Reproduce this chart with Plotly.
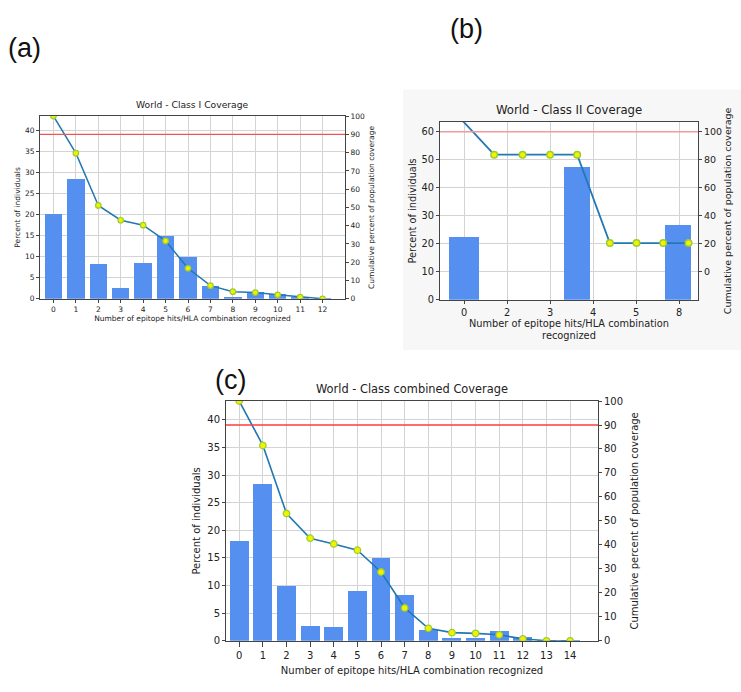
import plotly.graph_objects as go

# ---------------- data ----------------
# (a) World - Class I Coverage
a_hits = list(range(13))
a_tick_labels = [str(v) for v in a_hits]
a_pct = [20.1, 28.5, 8.3, 2.5, 8.4, 14.9, 9.9, 3.1, 0.2, 1.6, 1.2, 0.5, 0.1]
a_cum = [100, 79.7, 51.1, 43.0, 40.3, 31.7, 16.7, 7.2, 3.9, 3.4, 2.2, 0.9, 0.0]
a_threshold = 90

# (b) World - Class II Coverage
b_tick_pos = [0, 1, 2, 3, 4, 5]
b_tick_labels = ["0", "2", "3", "4", "5", "8"]
b_right_ticks = [0, 20, 40, 60, 80, 100]
b_bar_x = [0, 2.63, 4.97]
b_bar_pct = [22.4, 47.6, 26.8]
b_cum_x = [-0.1, 0.70, 1.36, 2.0, 2.63, 3.39, 4.01, 4.63, 5.22]
b_cum = [110, 83.6, 83.6, 83.6, 83.6, 20.4, 20.4, 20.4, 20.4]
b_threshold = 100

# (c) World - Class combined Coverage
c_hits = list(range(15))
c_tick_labels = [str(v) for v in c_hits]
c_pct = [18.1, 28.4, 10.0, 2.6, 2.5, 9.0, 14.9, 8.3, 2.0, 0.5, 0.5, 1.7, 0.6, 0.1, 0.05]
c_cum = [100, 81.5, 53.1, 42.8, 40.4, 37.8, 28.7, 13.7, 5.2, 3.4, 3.1, 2.5, 0.8, 0.0, 0.0]
c_threshold = 90

# ---------------- styles ----------------
W, H = 741, 692
FONT = "DejaVu Sans"
BAR = "#5590F0"
LINE = "#2278B5"
MK_FILL = "#F2F200"
MK_EDGE = "#9ACD32"
GRID = "#D3D3D3"
AXC = "#444444"
TXT = "#222222"


def px_x(p):
    return p / W


def px_y(p):
    return 1 - p / H


fig = go.Figure()

# bars + cumulative lines
fig.add_trace(go.Bar(x=a_hits, y=a_pct, width=0.78, marker=dict(color=BAR, line=dict(width=0)),
                     xaxis="x", yaxis="y"))
fig.add_trace(go.Scatter(x=a_hits, y=a_cum, mode="lines+markers", xaxis="x", yaxis="y2",
                         line=dict(color=LINE, width=1.5),
                         marker=dict(size=5.5, color=MK_FILL, line=dict(color=MK_EDGE, width=1.2))))

fig.add_trace(go.Bar(x=b_bar_x, y=b_bar_pct, width=[0.68, 0.6, 0.6], marker=dict(color=BAR, line=dict(width=0)),
                     xaxis="x2", yaxis="y3"))
fig.add_trace(go.Scatter(x=b_cum_x, y=b_cum, mode="lines+markers", xaxis="x2", yaxis="y4",
                         line=dict(color=LINE, width=1.8),
                         marker=dict(size=6.5, color=MK_FILL, line=dict(color=MK_EDGE, width=1.5))))

fig.add_trace(go.Bar(x=c_hits, y=c_pct, width=0.8, marker=dict(color=BAR, line=dict(width=0)),
                     xaxis="x3", yaxis="y5"))
fig.add_trace(go.Scatter(x=c_hits, y=c_cum, mode="lines+markers", xaxis="x3", yaxis="y6",
                         line=dict(color=LINE, width=1.6),
                         marker=dict(size=6.5, color=MK_FILL, line=dict(color=MK_EDGE, width=1.3))))

# domains (pixel boxes of the plot areas)
a_dom_x = [px_x(40), px_x(345)]
a_dom_y = [px_y(298), px_y(112)]
b_dom_x = [px_x(440), px_x(698)]
b_dom_y = [px_y(299), px_y(118)]
c_dom_x = [px_x(226), px_x(598)]
c_dom_y = [px_y(646), px_y(402)]


def xax(domain, anchor, tickvals, ticktext, rng, size, title, standoff, ticklen=3):
    return dict(domain=domain, anchor=anchor, range=rng, tickmode="array", tickvals=tickvals,
                ticktext=ticktext, showgrid=True, gridcolor=GRID, gridwidth=1, zeroline=False,
                showline=True, linecolor=AXC, linewidth=1, mirror=True, ticks="outside", ticklen=ticklen,
                tickcolor=AXC, tickfont=dict(family=FONT, size=size, color=TXT),
                title=dict(text=title, font=dict(family=FONT, size=size, color=TXT), standoff=standoff))


def yleft(domain, anchor, rng, dtick, size, title, standoff):
    return dict(domain=domain, anchor=anchor, range=rng, dtick=dtick, tick0=0, showgrid=True,
                gridcolor=GRID, gridwidth=1, zeroline=False, showline=True, linecolor=AXC, linewidth=1,
                ticks="outside", ticklen=3, tickcolor=AXC,
                tickfont=dict(family=FONT, size=size, color=TXT),
                title=dict(text=title, font=dict(family=FONT, size=size, color=TXT), standoff=standoff))


def yright(overlay, anchor, rng, dtick, size, title, standoff):
    return dict(overlaying=overlay, anchor=anchor, side="right", range=rng, dtick=dtick, tick0=0,
                showgrid=False, zeroline=False, showline=True, linecolor=AXC, linewidth=1,
                ticks="outside", ticklen=3, tickcolor=AXC,
                tickfont=dict(family=FONT, size=size, color=TXT),
                title=dict(text=title, font=dict(family=FONT, size=size, color=TXT), standoff=standoff))


XLAB = "Number of epitope hits/HLA combination recognized"
XLAB_B = "Number of epitope hits/HLA combination<br>recognized"
YLAB = "Percent of individuals"
RLAB = "Cumulative percent of population coverage"

yaxis4 = yright("y3", "x2", [-20.2, 107], 20, 9.5, RLAB, 2)
yaxis4.update(tickmode="array", tickvals=b_right_ticks)

fig.update_layout(
    width=W, height=H, margin=dict(l=0, r=0, t=0, b=0),
    paper_bgcolor="white", plot_bgcolor="white", showlegend=False, bargap=0,
    xaxis=xax(a_dom_x, "y", a_hits, a_tick_labels, [-0.6, 13.0], 7.5, XLAB, 2),
    yaxis=yleft(a_dom_y, "x", [0, 43.5], 5, 7.5, YLAB, 3),
    yaxis2=yright("y", "x", [0, 100], 10, 7.5, RLAB, 4),
    xaxis2=xax(b_dom_x, "y3", b_tick_pos, b_tick_labels, [-0.56, 5.44], 9.8, XLAB_B, 2),
    yaxis3=yleft(b_dom_y, "x2", [0, 63.5], 10, 9.8, YLAB, 3),
    yaxis4=yaxis4,
    xaxis3=xax(c_dom_x, "y5", c_hits, c_tick_labels, [-0.56, 15.18], 10, XLAB, 7, ticklen=5),
    yaxis5=yleft(c_dom_y, "x3", [0, 43.4], 5, 10, YLAB, 4),
    yaxis6=yright("y5", "x3", [0, 100], 10, 10, RLAB, 8),
)

shapes = [
    # light grey screenshot panel behind (b)
    dict(type="rect", xref="paper", yref="paper", x0=px_x(403), x1=1.0, y0=px_y(350), y1=px_y(85),
         fillcolor="#F7F7F7", line=dict(width=0), layer="below"),
    dict(type="rect", xref="x2 domain", yref="y3 domain", x0=0, x1=1, y0=0, y1=1,
         fillcolor="white", line=dict(width=0), layer="below"),
    # threshold lines
    dict(type="line", xref="x domain", yref="y2", x0=0, x1=1, y0=a_threshold, y1=a_threshold,
         line=dict(color="#EE5555", width=1.3)),
    dict(type="line", xref="x2 domain", yref="y4", x0=0, x1=1, y0=b_threshold, y1=b_threshold,
         line=dict(color="#F29A9A", width=1.5)),
    dict(type="line", xref="x3 domain", yref="y6", x0=0, x1=1, y0=c_threshold, y1=c_threshold,
         line=dict(color="#FF3B3B", width=1.6)),
]
fig.update_layout(shapes=shapes)

ann = [
    dict(text="World - Class I Coverage", xref="x domain", yref="y domain", x=0.5, y=1, yshift=4,
         yanchor="bottom", showarrow=False, font=dict(family=FONT, size=9.2, color=TXT)),
    dict(text="World - Class II Coverage", xref="x2 domain", yref="y3 domain", x=0.5, y=1, yshift=3,
         yanchor="bottom", showarrow=False, font=dict(family=FONT, size=11.7, color=TXT)),
    dict(text="World - Class combined Coverage", xref="x3 domain", yref="y5 domain", x=0.5, y=1, yshift=3,
         yanchor="bottom", showarrow=False, font=dict(family=FONT, size=11.4, color=TXT)),
    dict(text="(a)", xref="paper", yref="paper", x=px_x(6), y=px_y(43), xanchor="left", yanchor="middle",
         showarrow=False, font=dict(family="Liberation Sans", size=27, color="#111111")),
    dict(text="(b)", xref="paper", yref="paper", x=px_x(448), y=px_y(23), xanchor="left", yanchor="middle",
         showarrow=False, font=dict(family="Liberation Sans", size=27, color="#111111")),
    dict(text="(c)", xref="paper", yref="paper", x=px_x(213), y=px_y(381), xanchor="left", yanchor="middle",
         showarrow=False, font=dict(family="Liberation Sans", size=27, color="#111111")),
]
fig.update_layout(annotations=ann)

fig.write_html("out.html")
